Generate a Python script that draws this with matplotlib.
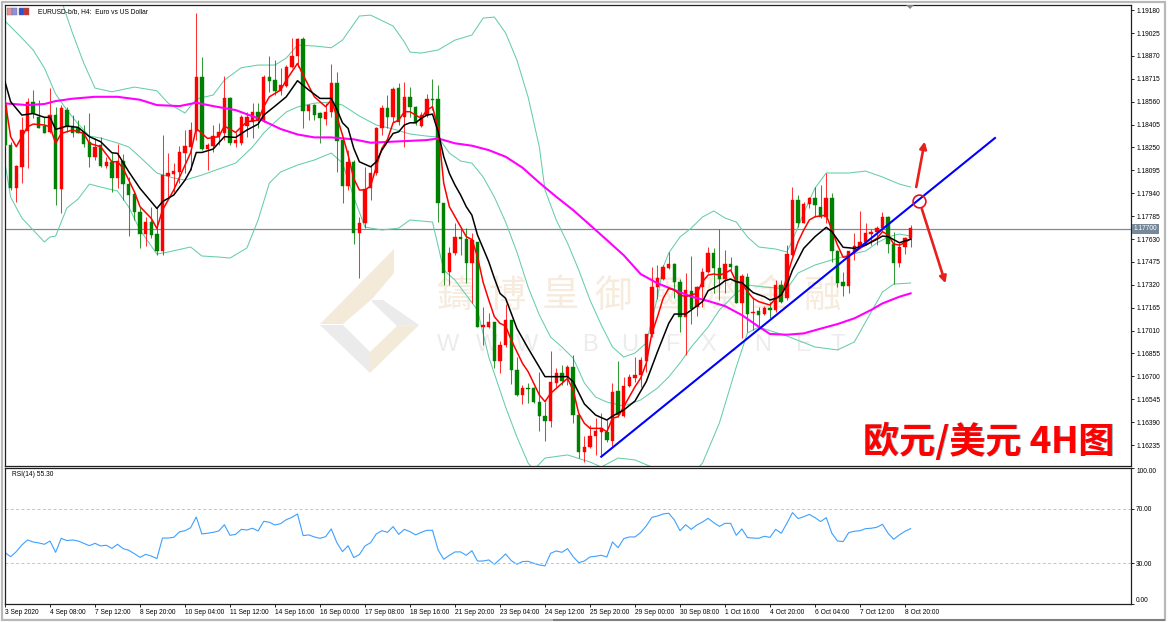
# EURUSD H4 chart with bands, moving averages and RSI pane
import numpy as np
import matplotlib
matplotlib.use('Agg')
import matplotlib.pyplot as plt
from matplotlib.patches import Polygon, Rectangle

plt.rcParams['font.family'] = ['Liberation Sans', 'DejaVu Sans']

opens = [1.18537,1.18266,1.17977,1.18119,1.18363,1.18560,1.18458,1.18395,1.18356,1.18469,
1.17966,1.18503,1.18395,1.18379,1.18350,1.18289,1.18183,1.18264,1.18124,1.18153,
1.18040,1.18158,1.18002,1.17932,1.17815,1.17661,1.17747,1.17661,1.17551,1.18060,
1.18070,1.18086,1.18214,1.18255,1.18363,1.18724,1.18237,1.18262,1.18323,1.18350,
1.18587,1.18278,1.18278,1.18395,1.18424,1.18487,1.18431,1.18724,1.18706,1.18634,
1.18666,1.18797,1.18871,1.18984,1.18499,1.18537,1.18480,1.18440,1.18492,1.18684,
1.18300,1.17989,1.18153,1.17673,1.17736,1.17973,1.18074,1.18379,1.18514,1.18454,
1.18650,1.18458,1.18593,1.18526,1.18395,1.18469,1.18578,1.18575,1.17871,1.17409,
1.17533,1.17646,1.17628,1.17470,1.17612,1.17036,1.17036,1.17070,1.16806,1.16912,
1.17081,1.16743,1.16574,1.16623,1.16619,1.16529,1.16431,1.16400,1.16657,1.16720,
1.16698,1.16761,1.16438,1.16190,1.16224,1.16296,1.16325,1.16325,1.16264,1.16601,
1.16431,1.16635,1.16686,1.16709,1.16806,1.16984,1.17307,1.17359,1.17436,1.17460,
1.17341,1.17104,1.17280,1.17172,1.17303,1.17409,1.17533,1.17431,1.17357,1.17458,
1.17447,1.17199,1.17370,1.17127,1.17140,1.17120,1.17165,1.17149,1.17319,1.17228,
1.17522,1.17894,1.17740,1.17867,1.17905,1.17849,1.17777,1.17905,1.17551,1.17339,
1.17312,1.17544,1.17574,1.17607,1.17664,1.17675,1.17702,1.17777,1.17596,1.17465,
1.17574,1.17634]
closes = [1.18266,1.17977,1.18124,1.18368,1.18560,1.18481,1.18379,1.18350,1.18469,1.17966,
1.18514,1.18390,1.18350,1.18345,1.18273,1.18183,1.18255,1.18124,1.18153,1.18045,
1.18158,1.18000,1.17928,1.17815,1.17661,1.17747,1.17657,1.17551,1.18063,1.18074,
1.18092,1.18221,1.18262,1.18368,1.18724,1.18240,1.18266,1.18327,1.18352,1.18582,
1.18278,1.18300,1.18458,1.18458,1.18487,1.18435,1.18724,1.18700,1.18634,1.18672,
1.18797,1.18871,1.18984,1.18499,1.18537,1.18469,1.18447,1.18492,1.18684,1.18296,
1.17989,1.18153,1.17673,1.17736,1.17966,1.18074,1.18379,1.18514,1.18454,1.18643,
1.18424,1.18593,1.18526,1.18417,1.18469,1.18575,1.18571,1.17871,1.17402,1.17537,
1.17646,1.17632,1.17470,1.17623,1.17036,1.17045,1.17070,1.16806,1.16912,1.17081,
1.16743,1.16574,1.16623,1.16614,1.16529,1.16431,1.16400,1.16664,1.16720,1.16671,
1.16761,1.16438,1.16190,1.16224,1.16298,1.16330,1.16348,1.16269,1.16596,1.16438,
1.16635,1.16693,1.16709,1.16811,1.16984,1.17307,1.17364,1.17443,1.17460,1.17341,
1.17104,1.17285,1.17154,1.17303,1.17409,1.17533,1.17431,1.17357,1.17458,1.17443,
1.17199,1.17380,1.17122,1.17136,1.17115,1.17165,1.17149,1.17319,1.17206,1.17528,
1.17894,1.17740,1.17867,1.17905,1.17860,1.17777,1.17905,1.17551,1.17334,1.17312,
1.17551,1.17583,1.17612,1.17668,1.17680,1.17707,1.17777,1.17596,1.17465,1.17578,
1.17634,1.17702]
highs = [1.18548,1.18289,1.18131,1.18458,1.18582,1.18639,1.18571,1.18458,1.18650,1.18526,
1.18537,1.18526,1.18469,1.18435,1.18402,1.18480,1.18311,1.18323,1.18187,1.18210,
1.18273,1.18205,1.18052,1.17950,1.17849,1.17781,1.17849,1.17849,1.18334,1.18214,
1.18147,1.18259,1.18368,1.18424,1.19162,1.18864,1.18278,1.18402,1.18413,1.18733,
1.18593,1.18356,1.18469,1.18492,1.18548,1.18548,1.18740,1.18869,1.18842,1.18785,
1.18808,1.18988,1.18988,1.18995,1.18544,1.18544,1.18492,1.18548,1.18815,1.18763,
1.18311,1.18232,1.18165,1.17781,1.18119,1.18131,1.18390,1.18537,1.18605,1.18657,
1.18684,1.18695,1.18661,1.18530,1.18492,1.18611,1.18711,1.18672,1.17871,1.17578,
1.17740,1.17702,1.17702,1.17668,1.17612,1.17167,1.17131,1.17070,1.16942,1.17190,
1.17081,1.16833,1.16641,1.16653,1.16630,1.16732,1.16529,1.16872,1.16754,1.16777,
1.16777,1.16844,1.16445,1.16296,1.16370,1.16416,1.16449,1.16404,1.16657,1.16804,
1.16693,1.16716,1.16833,1.16833,1.16984,1.17438,1.17454,1.17454,1.17544,1.17465,
1.17357,1.17402,1.17515,1.17312,1.17431,1.17574,1.17567,1.17695,1.17556,1.17510,
1.17454,1.17393,1.17398,1.17240,1.17172,1.17176,1.17206,1.17352,1.17352,1.17589,
1.17980,1.17928,1.17883,1.17917,1.17980,1.17996,1.18075,1.17939,1.17556,1.17409,
1.17551,1.17668,1.17820,1.17736,1.17695,1.17718,1.17815,1.17786,1.17680,1.17600,
1.17646,1.17725]
lows = [1.18255,1.17962,1.17883,1.18011,1.18108,1.18447,1.18379,1.18345,1.18345,1.17860,
1.17804,1.18356,1.18323,1.18345,1.18255,1.18119,1.18165,1.18119,1.18108,1.17950,
1.17973,1.17894,1.17650,1.17758,1.17567,1.17585,1.17634,1.17521,1.17521,1.17916,
1.17950,1.18007,1.18074,1.18097,1.18300,1.18232,1.18097,1.18221,1.18266,1.18300,
1.18266,1.18255,1.18266,1.18323,1.18311,1.18379,1.18424,1.18627,1.18605,1.18605,
1.18657,1.18785,1.18797,1.18384,1.18435,1.18435,1.18278,1.18402,1.18458,1.18086,
1.17871,1.17962,1.17596,1.17366,1.17702,1.17894,1.18063,1.18334,1.18379,1.18424,
1.18402,1.18255,1.18458,1.18402,1.18386,1.18458,1.18503,1.17747,1.17318,1.17318,
1.17522,1.17522,1.17334,1.17199,1.17032,1.16912,1.17025,1.16754,1.16720,1.16901,
1.16648,1.16567,1.16513,1.16517,1.16517,1.16332,1.16264,1.16359,1.16630,1.16641,
1.16641,1.16386,1.16145,1.16122,1.16213,1.16167,1.16156,1.16258,1.16228,1.16427,
1.16422,1.16626,1.16664,1.16630,1.16732,1.16969,1.17221,1.17352,1.17427,1.17228,
1.17003,1.16844,1.17054,1.17109,1.17167,1.17398,1.17262,1.17217,1.17262,1.17420,
1.17194,1.16957,1.17003,1.17014,1.17036,1.17115,1.17093,1.17138,1.17194,1.17217,
1.17515,1.17713,1.17736,1.17838,1.17781,1.17770,1.17736,1.17476,1.17307,1.17244,
1.17262,1.17488,1.17567,1.17589,1.17589,1.17589,1.17691,1.17533,1.17325,1.17438,
1.17526,1.17574]

# bollinger bands, read every few bars
upper_idx = [10,12,14,16,19,23,27,29,32,34,37,39,42,45,48,50,52,55,58,60,63,65,69,71,72,74,77,80,83,85,87,89,91,93,95,96,98,100,
102,104,106,108,110,112,114,116,117,118,120,122,124,126,128,130,132,134,137,139,140,142,144,146,150,153,156,159,161]
upper = [1.19248,1.19024,1.18821,1.18652,1.18627,1.18659,1.18634,1.18550,1.18483,1.18578,1.18605,1.18706,1.18790,1.18808,1.18808,1.18855,1.18943,1.18937,1.18925,1.18977,1.19140,1.19146,1.19072,1.18964,1.18896,1.18889,1.18910,1.18977,1.19011,1.19126,1.19133,1.19025,1.18842,1.18591,1.18253,1.17962,1.17759,1.17603,
1.17420,1.17217,1.17048,1.16899,1.16831,1.16858,1.16926,1.17237,1.17440,1.17535,1.17644,1.17704,1.17779,1.17820,1.17772,1.17745,1.17644,1.17576,1.17562,1.17542,1.17623,1.17806,1.17975,1.18077,1.18077,1.18090,1.18050,1.18002,1.17982]
middle_idx = [0,3,5,7,9,11,13,15,17,20,22,24,27,30,32,35,38,41,44,46,48,50,52,55,58,60,63,66,69,72,75,77,79,81,83,85,87,89,91,93,95,97,99,101,103,105,107,110,113,116,118,120,122,125,127,130,132,135,139,141,144,147,150,153,155,157,159,161]
middle = [1.19106,1.18991,1.18910,1.18788,1.18612,1.18503,1.18409,1.18327,1.18314,1.18280,1.18253,1.18185,1.18077,1.18043,1.18029,1.18063,1.18104,1.18144,1.18253,1.18348,1.18422,1.18490,1.18524,1.18550,1.18557,1.18537,1.18463,1.18402,1.18375,1.18341,1.18327,1.18320,1.18212,1.18158,1.18144,1.18050,1.17914,1.17745,1.17542,1.17305,1.17115,1.16966,1.16899,1.16824,1.16655,1.16560,1.16526,1.16499,1.16540,1.16621,1.16696,1.16791,1.16899,1.17034,1.17149,1.17264,1.17319,1.17305,1.17292,1.17400,1.17454,1.17488,1.17522,1.17549,1.17603,1.17644,1.17664,1.17650]
lower_idx = [0,1,3,5,7,8,9,11,13,15,17,20,22,24,27,29,33,35,38,40,43,45,47,49,52,55,58,60,62,64,67,70,72,76,78,80,84,86,89,91,93,94,96,100,104,106,109,112,115,118,124,127,130,132,134,139,144,148,151,154,156,158,161]
lower = [1.18144,1.17914,1.17772,1.17691,1.17610,1.17644,1.17650,1.17840,1.17901,1.18002,1.17982,1.17955,1.17847,1.17691,1.17528,1.17542,1.17576,1.17515,1.17508,1.17501,1.17569,1.17759,1.18009,1.18084,1.18131,1.18165,1.18212,1.18144,1.17914,1.17711,1.17691,1.17704,1.17759,1.17745,1.17420,1.17352,1.17149,1.16831,1.16492,1.16290,1.16113,1.16066,1.16147,1.16168,1.16120,1.16086,1.16147,1.16134,1.16086,1.15863,1.16113,1.16384,1.16763,1.16994,1.17034,1.16973,1.16899,1.16879,1.16933,1.17136,1.17271,1.17325,1.17332]

# red fast average
fast_idx = [0,1,2,3,4,5,7,8,9,10,12,14,15,17,19,20,21,23,24,26,27,28,30,32,33,34,36,38,39,41,43,45,46,47,49,50,52,53,55,57,58,59,60,61,62,63,64,65,66,67,68,69,70,71,72,73,74,75,76,77,78,79,80,81,82,83,84,85,86,87,88,89,90,91,92,93,94,95,96,97,98,99,100,101,102,103,104,105,106,107,108,109,110,111,112,113,114,115,116,117,118,119,120,121,122,123,124,125,126,127,128,129,130,131,132,133,134,135,136,137,138,139,140,141,142,143,144,145,146,147,148,149,150,151,152,153,154,155,156,157,158,159,160,161]
fast = [1.18571,1.18323,1.18255,1.18323,1.18390,1.18408,1.18402,1.18390,1.18278,1.18345,1.18368,1.18345,1.18278,1.18255,1.18153,1.18153,1.18108,1.17950,1.17849,1.17770,1.17702,1.17826,1.17962,1.18131,1.18214,1.18379,1.18311,1.18323,1.18395,1.18352,1.18424,1.18435,1.18526,1.18593,1.18639,1.18706,1.18819,1.18740,1.18593,1.18526,1.18571,1.18458,1.18334,1.18199,1.18040,1.17962,1.17962,1.17989,1.18119,1.18244,1.18305,1.18417,1.18435,1.18492,1.18492,1.18469,1.18447,1.18503,1.18526,1.18379,1.18007,1.17849,1.17781,1.17713,1.17646,1.17627,1.17510,1.17337,1.17217,1.17104,1.17059,1.17041,1.16946,1.16867,1.16788,1.16732,1.16653,1.16574,1.16529,1.16585,1.16619,1.16653,1.16686,1.16607,1.16449,1.16382,1.16348,1.16348,1.16348,1.16325,1.16416,1.16427,1.16495,1.16562,1.16630,1.16687,1.16788,1.16991,1.17104,1.17228,1.17296,1.17285,1.17251,1.17240,1.17251,1.17262,1.17341,1.17386,1.17393,1.17386,1.17398,1.17420,1.17341,1.17330,1.17273,1.17228,1.17206,1.17194,1.17183,1.17228,1.17239,1.17375,1.17499,1.17612,1.17691,1.17759,1.17781,1.17786,1.17792,1.17691,1.17589,1.17506,1.17515,1.17537,1.17567,1.17589,1.17612,1.17634,1.17680,1.17657,1.17596,1.17589,1.17605,1.17634]
# black slow average
slow_idx = [0,1,3,5,7,8,9,11,13,15,17,19,20,22,24,27,28,30,32,33,34,35,37,39,41,43,45,46,48,50,52,54,56,58,59,60,61,62,63,65,66,67,68,69,70,71,72,73,74,75,76,77,78,79,80,81,82,83,84,85,86,87,88,89,90,91,93,96,100,101,103,105,107,108,110,112,114,116,118,119,121,122,124,125,127,128,129,130,131,133,135,136,137,138,139,140,142,144,146,147,149,151,153,155,156,157,159,161]
slow = [1.18695,1.18560,1.18469,1.18480,1.18454,1.18454,1.18372,1.18395,1.18386,1.18323,1.18289,1.18214,1.18210,1.18086,1.17973,1.17837,1.17883,1.17928,1.18029,1.18097,1.18216,1.18216,1.18239,1.18323,1.18318,1.18368,1.18408,1.18469,1.18530,1.18593,1.18702,1.18639,1.18582,1.18582,1.18508,1.18417,1.18379,1.18244,1.18153,1.18119,1.18153,1.18232,1.18289,1.18345,1.18356,1.18402,1.18417,1.18417,1.18447,1.18469,1.18476,1.18356,1.18187,1.18074,1.17995,1.17928,1.17849,1.17792,1.17657,1.17567,1.17476,1.17364,1.17262,1.17228,1.17127,1.17025,1.16890,1.16698,1.16698,1.16664,1.16513,1.16438,1.16404,1.16431,1.16472,1.16533,1.16664,1.16867,1.17059,1.17122,1.17122,1.17149,1.17206,1.17280,1.17318,1.17348,1.17359,1.17341,1.17334,1.17267,1.17239,1.17217,1.17228,1.17251,1.17319,1.17420,1.17567,1.17646,1.17709,1.17680,1.17574,1.17567,1.17589,1.17628,1.17650,1.17646,1.17605,1.17628]
# magenta long average
ma_idx = [0,4,7,9,12,16,20,24,27,31,34,37,41,45,49,52,55,58,62,65,71,75,77,80,83,86,89,92,95,98,101,104,107,110,113,116,119,122,125,128,131,134,136,139,142,145,148,151,154,156,159,161]
ma = [1.18548,1.18537,1.18544,1.18564,1.18580,1.18593,1.18593,1.18573,1.18537,1.18530,1.18553,1.18530,1.18503,1.18447,1.18375,1.18338,1.18318,1.18318,1.18305,1.18282,1.18293,1.18300,1.18311,1.18278,1.18262,1.18232,1.18187,1.18113,1.18011,1.17916,1.17826,1.17725,1.17623,1.17520,1.17393,1.17330,1.17285,1.17240,1.17210,1.17176,1.17115,1.17036,1.16987,1.16982,1.16991,1.17023,1.17054,1.17093,1.17150,1.17194,1.17239,1.17262]

rsi = [37.8,34.8,38.5,43.4,47.1,45.6,44.9,43.9,46.3,38,48.3,46.6,47.1,46.3,44.6,42.9,44.6,42.7,43.2,40.9,
43.9,40.7,39.5,37,34.3,36.5,35.3,33.4,48.5,48.5,49,53,53.9,56.1,64,51.5,52,52.7,53.7,58.3,
50.5,51.2,54.9,54.4,55.7,53.7,60.8,60.1,58.1,59.1,62,63.7,66.2,50.3,50.8,49.3,48.3,49.5,55.2,45.1,
38.5,42.9,34.1,36.3,42.7,45.1,51.5,53.9,52.7,56.9,51.2,54.9,53.2,50.8,52.7,54.2,54.2,39.7,32.9,35.8,
38.3,38.3,35.8,39.2,31.6,31.6,32.4,29.2,32.9,36.8,31.9,29.2,31.2,31.4,29.9,28.7,28,37.3,39,38,
40.7,34.8,30.4,31.6,34.6,35.1,35.8,34.6,45.6,41.4,48.1,49.3,49.3,52.5,57.4,63.7,64.7,66.2,66.7,61.8,
53.9,58.3,54.9,58.1,60.3,63,59.8,57.1,59.3,59.3,50.5,55.2,48.8,48.5,48.3,49.8,49,54.9,52,59.3,
67.2,62.8,64.2,65.9,63.5,60.6,63.5,52,46.3,45.9,52.5,53.5,53.9,55.4,55.7,56.4,58.6,52,47.6,50.8,
53.5,55.4]

price_ticks = [1.19180,1.19025,1.18870,1.18715,1.18560,1.18405,1.18250,1.18095,1.17940,1.17785,1.17630,1.17475,1.17320,1.17165,1.17010,1.16855,1.16700,1.16545,1.16390,1.16235]
rsi_ticks = [0,30,70,100]
time_labels = ['3 Sep 2020','4 Sep 08:00','7 Sep 12:00','8 Sep 20:00','10 Sep 04:00','11 Sep 12:00','14 Sep 16:00','16 Sep 00:00','17 Sep 08:00','18 Sep 16:00','21 Sep 20:00','23 Sep 04:00','24 Sep 12:00','25 Sep 20:00','29 Sep 00:00','30 Sep 08:00','1 Oct 16:00','4 Oct 20:00','6 Oct 04:00','7 Oct 12:00','8 Oct 20:00']
last_price = 1.17700

trend_idx = [106,176]
trend = [1.16156,1.18314]

W, H = 1170, 622
fig = plt.figure(figsize=(W/100, H/100), dpi=100, facecolor='white')

def axes_box(left, top, right, bottom):
	return [left/W, 1-bottom/H, (right-left)/W, (bottom-top)/H]

def fp(x, y):
	return (x/W, 1-y/H)

ax = fig.add_axes(axes_box(4.5, 4.5, 1131, 466))
ax2 = fig.add_axes(axes_box(4.5, 468, 1131, 604))

# window frame of the terminal
fig.add_artist(Rectangle(fp(2, 620), 1163/W, 618/H, transform=fig.transFigure, fill=False, ec='#b8b8b8', lw=1.6))
fig.add_artist(Rectangle(fp(553, 621), 612/W, 2/H, transform=fig.transFigure, color='#808080', lw=0))

x = np.arange(len(opens))
o = np.array(opens)
c = np.array(closes)
colors = np.where(c >= o, '#ff0000', '#008000')

# watermark goes under everything
logo_parts = [([(394,249),(320,324),(343,324),(372,299),(394,273)], '#f4ead9'),
	([(419,325),(370,373),(370,352),(397,326)], '#f4ead9'),
	([(372,300),(383,300),(419,325),(397,326),(372,302)], '#ebebeb'),
	([(320,325),(343,325),(370,352),(370,373)], '#ebebeb')]
for pts, col in logo_parts:
	ax.add_patch(Polygon([fp(*p) for p in pts], closed=True, transform=fig.transFigure, fc=col, ec='none', zorder=0.5))
wm_chars = '鑄博皇御國際金融'
for k, ch in enumerate(wm_chars):
	ax.text(*fp(455+52.6*k, 296), ch, transform=fig.transFigure, fontsize=27, color='#f6ebdd', ha='center', va='center',
		family=['Noto Sans CJK TC', 'DejaVu Sans'], zorder=0.6)
wm_x = [448,487,527,560,590,630,672,708,735,763,803,838]
for px, ch in zip(wm_x, 'WWW.BUFX.NET'):
	ax.text(*fp(px, 345), ch, transform=fig.transFigure, fontsize=17, color='#ececec', ha='center', va='center', zorder=0.6)

ax.axhline(last_price, color='#808890', lw=0.9, zorder=1)

# bands
for xs, ys in [(upper_idx, upper), (middle_idx, middle), (lower_idx, lower)]:
	ax.plot(xs, ys, color='#66cdaa', lw=0.75, zorder=2)

# candles
ax.vlines(x, lows, highs, colors=colors, lw=0.75, alpha=0.8, zorder=3)
ax.bar(x, np.abs(c-o), bottom=np.minimum(o, c), width=0.62, color=colors, edgecolor=colors, linewidth=0.3, zorder=4)

ax.plot(ma_idx, ma, color='#ff00ff', lw=1.5, zorder=5)
ax.plot(fast_idx, fast, color='#ff0000', lw=1.1, zorder=6)
ax.plot(slow_idx, slow, color='black', lw=1.1, zorder=6)
ax.plot(trend_idx, trend, color='#0000ff', lw=1.5, zorder=7)

# projection marks on the trend line
ax.plot([162.5], [1.17890], marker='o', ms=9.2, mfc='none', mec='#e8101c', mew=1.2, zorder=8)
ax.annotate('', xy=(163.5, 1.18290), xytext=(162, 1.17982), zorder=8,
	arrowprops=dict(arrowstyle='-|>', color='#e8201c', lw=1.9, mutation_scale=10, shrinkA=0, shrinkB=0))
ax.annotate('', xy=(167.2, 1.17330), xytext=(163, 1.17833), zorder=8,
	arrowprops=dict(arrowstyle='-|>', color='#e8201c', lw=1.9, mutation_scale=10, shrinkA=0, shrinkB=0))

ax.set_xlim(-0.09, 200.18)
ax.set_ylim(1.16093, 1.19218)
ax.yaxis.tick_right()
ax.set_yticks(price_ticks)
ax.set_yticklabels(['%.5f' % p for p in price_ticks])
ax.set_xticks([])
ax.tick_params(axis='y', length=2.2, width=0.6, pad=1.5, labelsize=4.8, colors='black')

ax.text(33/1126.5, 1-(7.2/461.5), 'EURUSD-b/b, H4:  Euro vs US Dollar', transform=ax.transAxes, fontsize=4.8, va='center', ha='left', zorder=9)

# small chart icons in the corner
for left, c1, c2 in [(7, '#e89090', '#9090e0'), (19, '#3050d0', '#d03030')]:
	ax.add_patch(Rectangle(fp(left, 15), 5/W, 7/H, transform=fig.transFigure, fc=c1, ec='#707070', lw=0.3, zorder=9))
	ax.add_patch(Rectangle(fp(left+5, 15), 5/W, 7/H, transform=fig.transFigure, fc=c2, ec='#707070', lw=0.3, zorder=9))

ax.add_patch(Polygon([fp(906, 5), fp(914, 5), fp(910, 9)], closed=True, transform=fig.transFigure, fc='#808890', ec='none', clip_on=False, zorder=9))

ax.annotate('%.5f' % last_price, xy=(1, last_price), xycoords=('axes fraction', 'data'), xytext=(1.6, 0), textcoords='offset points',
	fontsize=4.8, color='white', va='center', ha='left', annotation_clip=False,
	bbox=dict(boxstyle='square,pad=0.25', fc='#778899', ec='none'), zorder=10)

# big caption
cap_font = ['Noto Sans CJK SC', 'DejaVu Sans']
ax.text(*fp(864, 442), '欧元/美元 4H图', transform=fig.transFigure, fontsize=26, fontweight='bold', color='#207090', alpha=0.5, ha='left', va='center', family=cap_font, zorder=8)
ax.text(*fp(863, 441.5), '欧元/美元 4H图', transform=fig.transFigure, fontsize=26, fontweight='bold', color='#ff0000', ha='left', va='center', family=cap_font, zorder=8)

# rsi pane
ax2.plot(x, rsi, color='#3ea0ff', lw=0.8)
for lvl in [30, 70]:
	ax2.axhline(lvl, color='#c4c4c4', lw=0.7, ls=(0, (3, 2.5)))
ax2.set_xlim(-0.09, 200.18)
ax2.set_ylim(0, 100)
ax2.yaxis.tick_right()
ax2.set_yticks(rsi_ticks)
ax2.set_yticklabels(['%.2f' % v for v in rsi_ticks])
ax2.tick_params(axis='y', length=2.2, width=0.6, pad=1.5, labelsize=4.8)
ax2.get_yticklabels()[0].set_va('bottom')
ax2.get_yticklabels()[3].set_va('top')
ax2.set_xticks(np.arange(0, 161, 8))
ax2.set_xticklabels(time_labels, ha='left')
ax2.tick_params(axis='x', length=2.2, width=0.6, pad=1.2, labelsize=4.8)
ax2.text(7/1126.5, 1-(6/136), 'RSI(14) 55.30', transform=ax2.transAxes, fontsize=4.8, va='center', ha='left')

for a in (ax, ax2):
	for s in a.spines.values():
		s.set_linewidth(0.9)
		s.set_color('#202020')
	a.set_facecolor('none')

fig.savefig('out.png', dpi=100)
